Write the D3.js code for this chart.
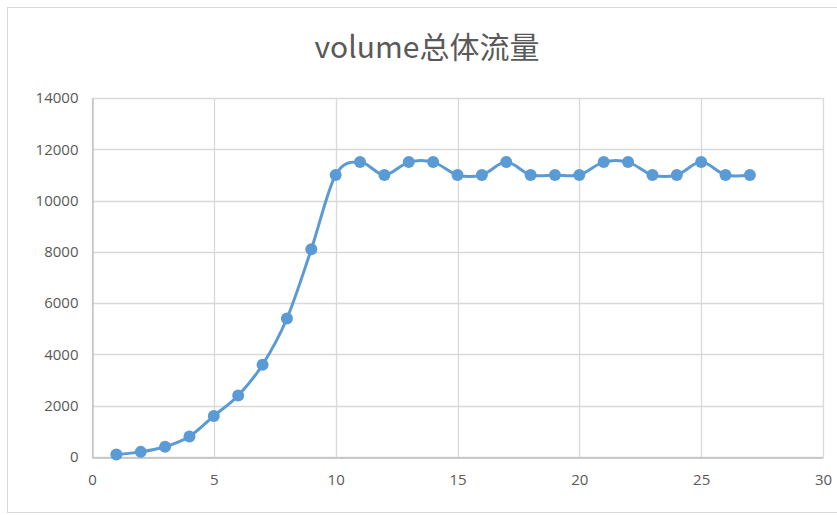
<!DOCTYPE html>
<html>
<head>
<meta charset="utf-8">
<script src="https://cdn.jsdelivr.net/npm/d3@7"></script>
<style>
  html, body { margin: 0; padding: 0; background: #fff; }
  svg { display: block; }
</style>
</head>
<body>
<svg id="chart" width="837" height="515"></svg>
<script>
// Total volume per step
const steps = [1, 2, 3, 4, 5, 6, 7, 8, 9, 10, 11, 12, 13, 14, 15, 16, 17, 18, 19, 20, 21, 22, 23, 24, 25, 26, 27];
const volume = [100, 200, 400, 800, 1600, 2400, 3600, 5400, 8100, 11000, 11500, 11000, 11500, 11500, 11000, 11000, 11500, 11000, 11000, 11000, 11500, 11500, 11000, 11000, 11500, 11000, 11000];
const xTicks = [0, 5, 10, 15, 20, 25, 30];
const yTicks = [0, 2000, 4000, 6000, 8000, 10000, 12000, 14000];
const title = "volume总体流量";

const svg = d3.select("#chart");
const W = 837, H = 515;
const plot = { left: 92, right: 823, top: 98, bottom: 457 };
const blue = "#5B9BD5";
const textColor = "#595959";
const gridColor = "#d9d9d9";
const font = "'Noto Sans CJK SC', 'Open Sans', sans-serif";

// chart frame
svg.append("rect")
  .attr("x", 7.5).attr("y", 7.5)
  .attr("width", W + 10).attr("height", 505)
  .attr("fill", "#fff").attr("stroke", gridColor).attr("stroke-width", 1);

svg.append("text")
  .attr("x", 427).attr("y", 58)
  .attr("text-anchor", "middle")
  .attr("font-family", font)
  .attr("font-size", 30)
  .attr("fill", textColor)
  .text(title);

const x = d3.scaleLinear().domain([0, 30]).range([plot.left, plot.right]);
const y = d3.scaleLinear().domain([0, 14000]).range([plot.bottom, plot.top]);

// gridlines
const grid = svg.append("g");
grid.selectAll("line.h").data(yTicks).join("line")
  .attr("x1", plot.left).attr("x2", plot.right)
  .attr("y1", d => Math.round(y(d)) + 0.5).attr("y2", d => Math.round(y(d)) + 0.5)
  .attr("stroke", gridColor).attr("stroke-width", 1.3);
grid.selectAll("line.v").data(xTicks).join("line")
  .attr("y1", plot.top).attr("y2", plot.bottom)
  .attr("x1", d => Math.round(x(d)) + 0.5).attr("x2", d => Math.round(x(d)) + 0.5)
  .attr("stroke", gridColor).attr("stroke-width", 1.3);

// axes
const xAxis = d3.axisBottom(x).tickValues(xTicks).tickSize(0).tickPadding(17);
const yAxis = d3.axisLeft(y).tickValues(yTicks).tickSize(0).tickPadding(14).tickFormat(d3.format("d"));

const gx = svg.append("g").attr("transform", `translate(0,${Math.round(plot.bottom) + 0.5})`).call(xAxis);
const gy = svg.append("g").attr("transform", `translate(${plot.left + 0.5},0)`).call(yAxis);
[gx, gy].forEach(g => {
  g.select(".domain").attr("stroke", "#bfbfbf").attr("stroke-width", 1.3);
  g.selectAll("text").attr("font-family", "'Open Sans', sans-serif")
    .attr("font-size", 15).attr("fill", textColor);
});

// smoothed series line
const pts = steps.map((s, i) => [s, volume[i]]);
const line = d3.line()
  .x(d => x(d[0])).y(d => y(d[1]))
  .curve(d3.curveCatmullRom.alpha(0));

svg.append("path")
  .datum(pts)
  .attr("d", line)
  .attr("fill", "none")
  .attr("stroke", blue)
  .attr("stroke-width", 3);

svg.append("g").selectAll("circle").data(pts).join("circle")
  .attr("cx", d => x(d[0])).attr("cy", d => y(d[1]))
  .attr("r", 6)
  .attr("fill", blue);
</script>
</body>
</html>
